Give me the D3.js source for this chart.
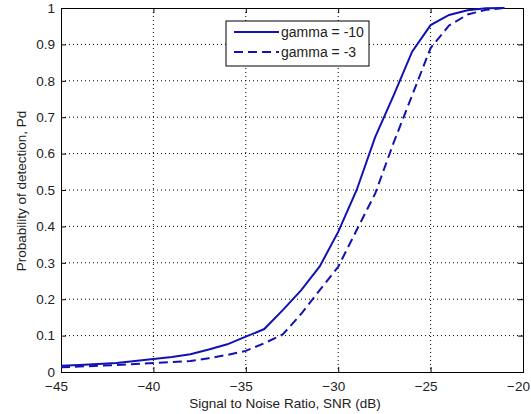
<!DOCTYPE html>
<html>
<head>
<meta charset="utf-8">
<script src="https://cdn.jsdelivr.net/npm/d3@7"></script>
<style>
  body { margin: 0; background: #fff; }
  text { font-family: "Liberation Sans", Arial, sans-serif; font-size: 13.5px; fill: #222; }
</style>
</head>
<body>
<svg id="chart" width="531" height="414"></svg>
<script>
// SNR grid (dB) and detection probability for the two thresholds
var snr = [-45, -44, -43, -42, -41, -40, -39, -38, -37, -36, -35, -34, -33,
           -32, -31, -30, -29, -28, -27, -26, -25, -24, -23, -22, -21];
var pdGamma10 = [0.017, 0.019, 0.022, 0.025, 0.03, 0.036, 0.041, 0.049, 0.062, 0.076,
                 0.097, 0.118, 0.17, 0.225, 0.29, 0.385, 0.50, 0.645, 0.76, 0.88,
                 0.953, 0.981, 0.994, 0.999, 1.0];
var pdGamma3 = [0.013, 0.015, 0.017, 0.019, 0.022, 0.025, 0.027, 0.03, 0.038, 0.047,
                0.058, 0.079, 0.103, 0.16, 0.225, 0.289, 0.39, 0.49, 0.63, 0.76,
                0.89, 0.952, 0.982, 0.995, 1.0];
var seriesNames = ['gamma = -10', 'gamma = -3'];
var xTicks = [-45, -40, -35, -30, -25, -20];
var yTicks = [0, 0.1, 0.2, 0.3, 0.4, 0.5, 0.6, 0.7, 0.8, 0.9, 1];

var margin = {left: 61, top: 8, right: 8, bottom: 42};
var width = 531 - margin.left - margin.right;
var height = 414 - margin.top - margin.bottom;
var lineColor = '#1212b4';

var svg = d3.select('#chart');
var g = svg.append('g').attr('transform', 'translate(' + margin.left + ',' + margin.top + ')');

var xs = d3.scaleLinear().domain([-45, -20]).range([0, width]);
var ys = d3.scaleLinear().domain([0, 1]).range([height, 0]);

// dotted grid
g.append('g').selectAll('line').data(xTicks.slice(1, -1)).enter().append('line')
    .attr('x1', function (d) { return xs(d); })
    .attr('x2', function (d) { return xs(d); })
    .attr('y1', 0).attr('y2', height)
    .attr('stroke', '#000').attr('stroke-width', 1).attr('stroke-dasharray', '1,3');
g.append('g').selectAll('line').data(yTicks.slice(1, -1)).enter().append('line')
    .attr('y1', function (d) { return ys(d); })
    .attr('y2', function (d) { return ys(d); })
    .attr('x1', 0).attr('x2', width)
    .attr('stroke', '#000').attr('stroke-width', 1).attr('stroke-dasharray', '1,3');

// axes, ticks pointing inward on all four sides
var fmtY = function (d) { return d3.format('')(d); };
var xAxis = g.append('g').attr('transform', 'translate(0,' + height + ')')
    .call(d3.axisBottom(xs).tickValues(xTicks).tickSize(-5).tickPadding(9));
var yAxis = g.append('g')
    .call(d3.axisLeft(ys).tickValues(yTicks).tickSize(-5).tickPadding(6).tickFormat(fmtY));
g.append('g').call(d3.axisTop(xs).tickValues(xTicks).tickSize(-5).tickFormat(''));
g.append('g').attr('transform', 'translate(' + width + ',0)')
    .call(d3.axisRight(ys).tickValues(yTicks).tickSize(-5).tickFormat(''));
g.selectAll('.domain').attr('stroke', '#000');
g.selectAll('.tick line').attr('stroke', '#000');
g.selectAll('.tick text').attr('font-size', 12).attr('fill', '#222')
    .attr('font-family', '"Liberation Sans", Arial, sans-serif');
// matlab-ish placement: x labels sit a little left of their tick
xAxis.selectAll('.tick text').attr('dx', -5);

// curves
var line = d3.line()
    .x(function (d) { return xs(d[0]); })
    .y(function (d) { return ys(d[1]); });

var curves = [
    {name: seriesNames[0], values: d3.zip(snr, pdGamma10), dash: null},
    {name: seriesNames[1], values: d3.zip(snr, pdGamma3), dash: '9,5'}
];

g.selectAll('path.curve').data(curves).enter().append('path')
    .attr('class', 'curve')
    .attr('d', function (d) { return line(d.values); })
    .attr('fill', 'none')
    .attr('stroke', lineColor)
    .attr('stroke-width', 2)
    .attr('stroke-dasharray', function (d) { return d.dash; });

// legend
var legend = svg.append('g').attr('transform', 'translate(226,21)');
legend.append('rect').attr('width', 143).attr('height', 45)
    .attr('fill', '#fff').attr('stroke', '#000').attr('stroke-width', 1);
var items = legend.selectAll('g.item').data(curves).enter().append('g')
    .attr('transform', function (d, i) { return 'translate(0,' + (11 + i * 20) + ')'; });
items.append('line')
    .attr('x1', 8).attr('x2', 53).attr('y1', 0).attr('y2', 0)
    .attr('stroke', lineColor).attr('stroke-width', 2)
    .attr('stroke-dasharray', function (d) { return d.dash; });
items.append('text').attr('x', 55).attr('y', 5).style('font-size', '14px')
    .text(function (d) { return d.name; });

// axis labels
svg.append('text')
    .attr('x', 285).attr('y', 408)
    .attr('text-anchor', 'middle')
    .text('Signal to Noise Ratio, SNR (dB)');
svg.append('text')
    .attr('transform', 'translate(26,191) rotate(-90)')
    .attr('text-anchor', 'middle')
    .text('Probability of detection, Pd');
</script>
</body>
</html>
